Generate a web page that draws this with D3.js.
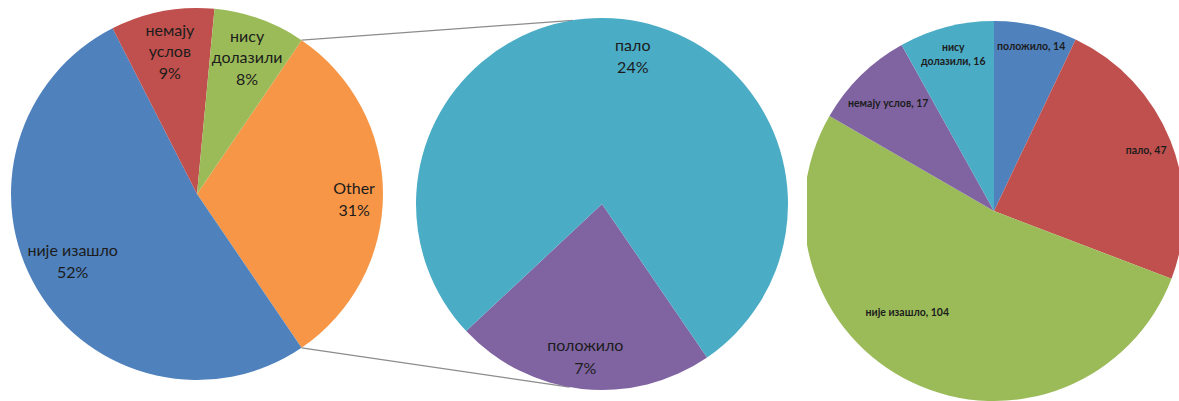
<!DOCTYPE html>
<html>
<head>
<meta charset="utf-8">
<script src="https://cdn.jsdelivr.net/npm/d3@7"></script>
<style>
  html, body { margin: 0; padding: 0; background: #fff; }
  svg { display: block; }
  text { font-family: "Lato", "Noto Sans", sans-serif; }
</style>
</head>
<body>
<svg id="chart" width="1179" height="401"></svg>
<script>
// Exam outcome shares: main pie with "Other" broken out into a secondary pie,
// plus a pie of raw counts.
const mainCategories = ["Other", "није изашло", "немају\nуслов", "нису\nдолазили"];
const mainPercent = [31, 52, 9, 8];
const mainColors = ["#F79646", "#4F81BD", "#C0504D", "#9BBB59"];

const otherCategories = ["положило", "пало"];
const otherPercent = [7, 24];
const otherColors = ["#8064A2", "#4BACC6"];

const countCategories = ["положило", "пало", "није изашло", "немају услов", "нису\nдолазили"];
const countValues = [14, 47, 104, 17, 16];
const countColors = ["#4F81BD", "#C0504D", "#9BBB59", "#8064A2", "#4BACC6"];

const deg = Math.PI / 180;
const svg = d3.select("#chart");

// Place a label box inside a slice so its far corner sits just inside the rim.
function fitInside(angle, r, w, h, pad) {
  const dx = Math.sin(angle), dy = -Math.cos(angle);
  const far = t => {
    let m = 0;
    for (const sx of [-1, 1]) for (const sy of [-1, 1]) {
      const x = t * dx + sx * w / 2, y = t * dy + sy * h / 2;
      m = Math.max(m, Math.hypot(x, y));
    }
    return m;
  };
  let lo = 0, hi = r;
  for (let i = 0; i < 40; i++) {
    const mid = (lo + hi) / 2;
    if (far(mid) > r - pad) hi = mid; else lo = mid;
  }
  return [lo * dx, lo * dy];
}

function drawPie(opts) {
  const { cx, cy, r, cats, values, colors, start, fmt, fontSize, weight, lineH, pad, clip, overrides } = opts;
  const pie = d3.pie().sort(null).value(d => d)
    .startAngle(start).endAngle(start + 2 * Math.PI);
  const arcs = pie(values);
  const arc = d3.arc().innerRadius(0).outerRadius(r);

  const g = svg.append("g").attr("transform", `translate(${cx},${cy})`);
  if (clip) {
    const id = "clip" + Math.round(cx);
    svg.append("clipPath").attr("id", id)
      .append("rect").attr("x", clip.x0 - cx).attr("y", clip.y0 - cy)
      .attr("width", clip.x1 - clip.x0).attr("height", clip.y1 - clip.y0);
    g.attr("clip-path", `url(#${id})`);
  }

  g.selectAll("path.slice").data(arcs).join("path")
    .attr("class", "slice")
    .attr("d", arc)
    .attr("fill", (d, i) => colors[i]);

  const total = d3.sum(values);
  arcs.forEach((a, i) => {
    const lines = fmt(cats[i], values[i], total).split("\n");
    const t = g.append("text")
      .attr("font-size", fontSize)
      .attr("font-weight", weight)
      .attr("fill", "#1c1c1c")
      .attr("text-anchor", "middle");
    const n = lines.length;
    lines.forEach((ln, k) => {
      t.append("tspan").attr("x", 0)
        .attr("y", (k - (n - 1) / 2) * lineH)
        .attr("dy", "0.35em")
        .text(ln);
    });
    const bb = t.node().getBBox();
    const mid = (a.startAngle + a.endAngle) / 2;
    let pos;
    const ov = overrides && overrides[cats[i]];
    if (ov) {
      pos = [Math.sin(ov.angle * deg) * ov.radius * r, -Math.cos(ov.angle * deg) * ov.radius * r];
    } else {
      pos = fitInside(mid, r, bb.width, bb.height, pad);
    }
    t.attr("transform", `translate(${pos[0]},${pos[1]})`);
  });
  return arcs;
}

// Main pie: "Other" is centred facing the secondary pie.
const mainTotal = d3.sum(mainPercent);
const otherShare = mainPercent[0] / mainTotal;
const mainStart = Math.PI / 2 - otherShare * Math.PI;

const main = { cx: 197, cy: 194, r: 186 };
const second = { cx: 602, cy: 204, r: 186 };

// Connector lines from the "Other" slice edges to the secondary pie
const connectorAngles = [-9, 190];
const conn = svg.append("g").attr("stroke", "#8c8c8c").attr("stroke-width", 1.3).attr("fill", "none");
[mainStart, mainStart + otherShare * 2 * Math.PI].forEach((a, i) => {
  const b = connectorAngles[i] * deg;
  conn.append("line")
    .attr("x1", main.cx + Math.sin(a) * main.r)
    .attr("y1", main.cy - Math.cos(a) * main.r)
    .attr("x2", second.cx + Math.sin(b) * second.r)
    .attr("y2", second.cy - Math.cos(b) * second.r);
});

drawPie({
  ...main, cats: mainCategories, values: mainPercent, colors: mainColors,
  start: mainStart, fmt: (c, v) => `${c}\n${v}%`,
  fontSize: 16, weight: 400, lineH: 21.5, pad: 5,
  overrides: {
    "Other": { angle: 92, radius: 0.845 },
    "није изашло": { angle: 241.6, radius: 0.76 },
    "нису\nдолазили": { angle: 20.2, radius: 0.78 }
  }
});

drawPie({
  ...second, cats: otherCategories, values: otherPercent, colors: otherColors,
  start: 145.6 * deg, fmt: (c, v) => `${c}\n${v}%`,
  fontSize: 16, weight: 400, lineH: 22.5, pad: 4,
  overrides: { "пало": { angle: 11.8, radius: 0.81 } }
});

drawPie({
  cx: 994, cy: 211, r: 190, cats: countCategories, values: countValues, colors: countColors,
  start: 0, fmt: (c, v) => `${c}, ${v}`,
  fontSize: 10.5, weight: 700, lineH: 14, pad: 5,
  clip: { x0: 807, y0: 0, x1: 1179, y1: 401 },
  overrides: { "није изашло": { angle: 220.7, radius: 0.70 } }
});
</script>
</body>
</html>
